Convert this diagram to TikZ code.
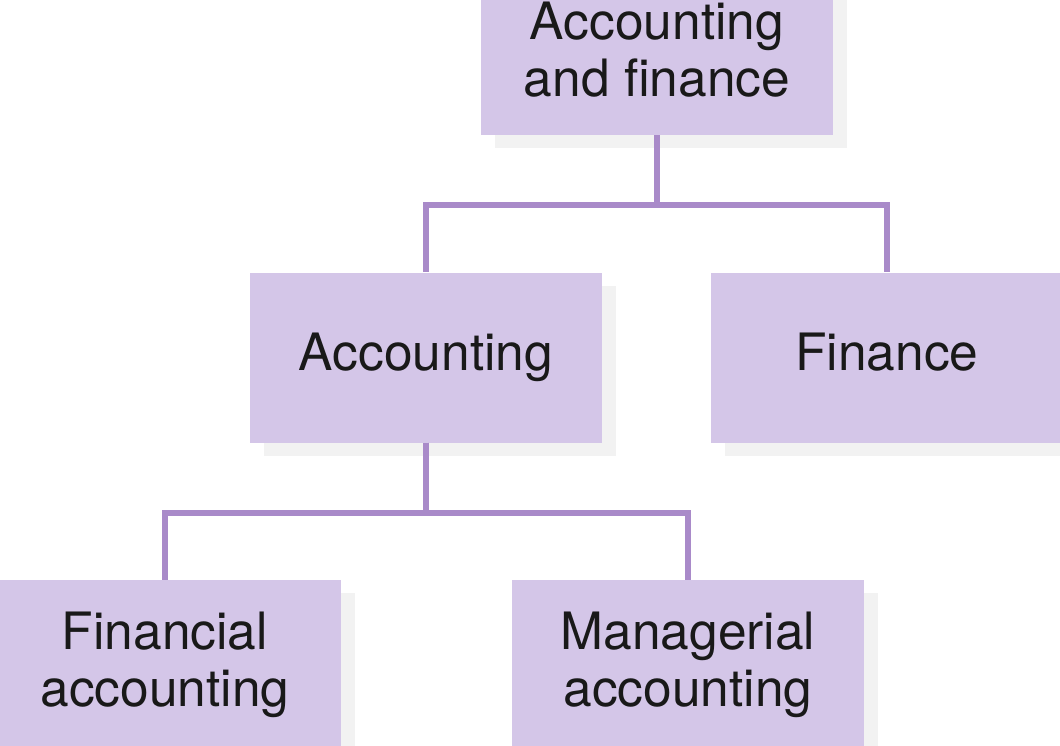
\documentclass[tikz,border=0pt]{standalone}
\usepackage{fontspec}
\setmainfont{TeX Gyre Heros}
\usepackage{xcolor}
\usepackage{tikz}
\usetikzlibrary{shadows}

\definecolor{boxfill}{HTML}{D4C6E8}
\definecolor{linkcol}{HTML}{A98AC9}
\definecolor{shadecol}{HTML}{F2F2F2}

\begin{document}
\begin{tikzpicture}[x=1pt,y=-1pt,
		unit/.style={rectangle,fill=boxfill,minimum width=352pt,minimum height=170pt,inner sep=0pt,align=center,
			text=black!90,font=\fontsize{51.5}{57}\selectfont,
			drop shadow={shadow xshift=14pt,shadow yshift=-13pt,fill=shadecol,opacity=1}},
		link/.style={draw=linkcol,line width=6pt}]
				\useasboundingbox (0,0) rectangle (1060,746);
				
				\node[unit] (AF) at (657,50) {Accounting\\and finance};
				\node[unit] (AC) at (426,357.5) {Accounting};
				\node[unit,text depth=11pt] (FI) at (887,357.5) {Finance};
				\node[unit] (FA) at (165,665) {Financial\\accounting};
				\node[unit] (MA) at (688,665) {Managerial\\accounting};
				
				\path[link] (AF.south) -- ++(0,70) -| (AC.north);%acc%
				\path[link] (AF.south) -- ++(0,70) -| (FI.north);%fin%
				
				\path[link] (AC.south) -- ++(0,70) -| (FA.north);%fa%
				\path[link] (AC.south) -- ++(0,70) -| (MA.north);%ma%
			\end{tikzpicture}
\end{document}
